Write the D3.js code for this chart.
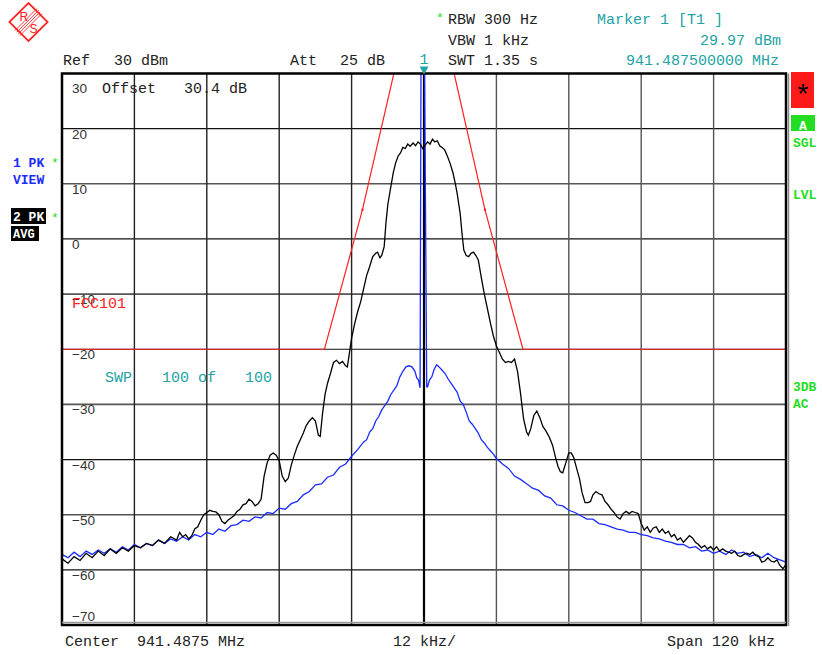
<!DOCTYPE html>
<html>
<head>
<meta charset="utf-8">
<script src="https://cdn.jsdelivr.net/npm/d3@7/dist/d3.min.js"></script>
<style>
  body { margin: 0; background: #fff; }
  svg text { font-family: "Liberation Mono", "DejaVu Sans Mono", monospace; white-space: pre; }
</style>
</head>
<body>
<script>
// ---- data (offset from centre in kHz, level in dBm) ----
// trace 1: PK VIEW (blue)
var trace1 = [
  [-60,-57.2],[-59,-57.8],[-58,-56.8],[-57,-57.6],[-56,-56.6],[-55,-57.2],[-54,-56.4],[-53,-57.0],
  [-52,-56.2],[-51,-56.8],[-50,-55.8],[-49,-56.4],[-48,-55.4],[-47,-56.0],[-46,-55.2],[-45,-55.6],
  [-44,-54.6],[-43,-55.2],[-42,-54.4],[-41,-54.8],[-40,-54.0],[-39,-54.6],[-38,-53.6],[-37,-54.0],
  [-36,-53.2],[-35,-53.6],[-34,-52.6],[-33,-53.0],[-32,-52.0],[-31,-51.8],[-30,-51.0],[-29,-51.2],
  [-28,-50.4],[-27,-50.6],[-26,-49.6],[-25,-49.8],[-24,-48.8],[-23,-49.0],[-22,-48.0],[-21,-47.6],
  [-20,-46.4],[-19,-45.8],[-18,-44.6],[-17,-44.4],[-16,-43.2],[-15,-42.8],[-14,-41.4],[-13,-40.8],
  [-12,-39.4],[-11,-38.2],[-10,-36.8],[-9.5,-36.4],[-9,-35.0],[-8.5,-34.4],[-8,-33.0],[-7.5,-32.2],
  [-7,-31.0],[-6.5,-30.2],[-6,-29.4],[-5.5,-28.2],[-5,-27.4],[-4.5,-26.6],[-4,-25.0],[-3.5,-24.0],
  [-3,-23.2],[-2.5,-23.0],[-2,-23.2],[-1.5,-24.0],[-1.2,-25.2],[-0.9,-25.6],[-0.65,-27.0],
  [-0.5,29.97],[0.1,29.97],[0.45,-26.8],
  [0.6,-26.8],[0.9,-25.6],[1.3,-25.0],[1.7,-23.6],[2.1,-22.8],[2.5,-23.2],[3.0,-23.8],[3.5,-24.4],
  [4.0,-25.4],[4.5,-26.2],[5.0,-27.0],[5.5,-27.8],[6.0,-29.4],[6.5,-30.0],[7.0,-31.4],[7.5,-33.0],
  [8.0,-33.6],[8.5,-34.4],[9.0,-35.2],[9.5,-36.4],[10,-37.0],[10.5,-37.8],[11,-38.4],[11.5,-39.0],
  [12,-39.8],[13,-40.8],[14,-41.6],[15,-43.0],[16,-43.6],[17,-44.4],[18,-45.2],[19,-45.6],
  [20,-46.6],[21,-47.0],[22,-48.2],[23,-48.4],[24,-49.2],[25,-49.6],[26,-50.2],[27,-50.8],
  [28,-50.8],[29,-51.6],[30,-51.8],[31,-52.2],[32,-52.6],[33,-52.8],[34,-53.2],[35,-53.2],
  [36,-53.6],[37,-53.8],[38,-54.2],[39,-54.4],[40,-54.8],[41,-55.0],[42,-55.4],[43,-55.4],
  [44,-56.0],[45,-55.8],[46,-56.6],[47,-56.4],[48,-57.0],[49,-56.6],[50,-57.2],[51,-56.4],
  [52,-57.0],[53,-56.8],[54,-57.6],[55,-57.2],[56,-57.8],[57,-57.0],[58,-57.8],[59,-58.2],[60,-58.6]
];

// trace 2: PK AVG (black)
var trace2 = [
  [-60,-58.0],[-59,-58.8],[-58,-57.6],[-57,-58.3],[-56,-57.0],[-55,-57.8],[-54,-56.6],[-53,-57.4],
  [-52,-56.2],[-51,-57.0],[-50,-56.0],[-49,-56.6],[-48,-55.6],[-47,-56.0],[-46,-55.2],[-45,-55.6],
  [-44,-54.6],[-43,-55.2],[-42,-54.0],[-41,-54.6],[-40.5,-53.2],[-40,-54.0],[-39.5,-53.6],[-39,-54.4],
  [-38.5,-53.8],[-38,-52.6],[-37.5,-52.2],[-37,-51.0],[-36.5,-50.0],[-36,-49.6],[-35.5,-49.2],[-35,-49.4],
  [-34.5,-49.5],[-34,-50.0],[-33.5,-51.2],[-33,-51.6],[-32.5,-51.0],[-32,-50.6],[-31.5,-50.2],[-31,-49.4],
  [-30.5,-49.0],[-30,-48.2],[-29.5,-48.0],[-29,-47.2],[-28.5,-47.6],[-28,-48.4],[-27.5,-48.0],[-27,-47.2],
  [-26.5,-43.0],[-26,-40.6],[-25.5,-39.2],[-25,-38.8],[-24.5,-39.2],[-24,-40.2],[-23.5,-43.0],[-23,-44.0],
  [-22.5,-43.4],[-22,-41.0],[-21.5,-39.2],[-21,-37.6],[-20.5,-36.4],[-20,-35.2],[-19.5,-33.8],[-19,-33.0],
  [-18.5,-32.4],[-18,-33.0],[-17.5,-35.6],[-17.2,-35.8],[-16.8,-31.5],[-16.4,-28.2],[-16,-26.2],[-15.5,-24.4],
  [-15,-22.4],[-14.5,-22.0],[-14,-22.6],[-13.5,-22.2],[-13,-23.0],[-12.7,-23.2],[-12.3,-20.2],[-12,-18.0],
  [-11.5,-15.4],[-11,-13.2],[-10.5,-11.4],[-10,-9.0],[-9.5,-6.6],[-9,-5.0],[-8.5,-3.2],[-8,-2.6],
  [-7.7,-2.4],[-7.3,-3.4],[-7,-3.0],[-6.6,-1.4],[-6.3,3.0],[-6,6.2],[-5.6,8.8],[-5.1,12.0],
  [-4.7,13.8],[-4.3,15.0],[-3.9,15.6],[-3.5,16.6],[-3.1,16.4],[-2.7,17.2],[-2.3,16.8],[-1.8,17.4],
  [-1.4,16.9],[-1.0,17.6],[-0.6,17.2],[-0.2,16.4],[0.2,17.0],[0.6,17.6],[1.0,17.2],[1.4,18.1],
  [1.8,17.6],[2.2,17.8],[2.6,16.9],[3.0,16.6],[3.4,16.2],[3.8,15.2],[4.3,13.8],[4.8,12.0],
  [5.2,10.0],[5.5,8.2],[6.0,4.6],[6.3,1.0],[6.6,-2.0],[7.0,-3.0],[7.4,-3.2],[7.8,-2.6],
  [8.2,-2.4],[8.6,-3.0],[9.0,-3.8],[9.5,-7.0],[10.0,-10.0],[10.5,-12.6],[11.0,-15.2],[11.5,-17.6],
  [12.0,-19.4],[12.5,-20.6],[13.0,-21.8],[13.5,-22.4],[14.0,-22.2],[14.5,-22.4],[15.0,-21.8],[15.5,-24.0],
  [16.0,-28.0],[16.5,-32.6],[17.0,-35.0],[17.3,-35.6],[17.7,-34.4],[18.2,-32.0],[18.7,-31.2],[19.2,-32.4],
  [19.7,-34.0],[20.2,-34.8],[20.8,-36.0],[21.3,-37.4],[21.8,-39.6],[22.2,-41.2],[22.6,-42.2],[23.0,-42.4],
  [23.5,-40.6],[24.0,-38.8],[24.4,-38.8],[24.8,-39.6],[25.3,-41.6],[25.8,-43.6],[26.2,-46.0],[26.7,-47.8],
  [27.2,-47.8],[27.6,-47.6],[28.0,-46.4],[28.5,-45.8],[29.0,-46.2],[29.5,-46.4],[30.0,-47.6],[30.5,-48.2],
  [31.0,-49.0],[31.5,-49.6],[32.0,-50.4],[32.5,-50.8],[33.0,-49.8],[33.5,-49.4],[34.0,-49.8],[34.5,-49.4],
  [35.0,-49.6],[35.5,-49.8],[36.0,-51.6],[36.5,-52.8],[37.0,-52.2],[37.5,-53.2],[38.0,-52.4],[38.5,-52.2],
  [39.0,-53.2],[39.5,-52.6],[40.0,-53.4],[40.5,-53.0],[41.0,-54.0],[41.5,-53.6],[42.0,-54.6],[42.5,-54.2],
  [43.0,-55.0],[43.5,-54.4],[44.0,-53.8],[44.5,-54.2],[45.0,-55.0],[45.5,-55.4],[46.0,-56.0],[46.5,-55.6],
  [47.0,-56.2],[47.5,-55.8],[48.0,-56.4],[48.5,-55.8],[49.0,-56.6],[49.5,-56.2],[50.0,-56.6],[51.0,-57.0],
  [51.5,-56.6],[52.0,-57.4],[52.5,-57.6],[53.0,-57.2],[53.5,-57.0],[54.0,-57.2],[54.5,-56.8],[55.0,-57.4],
  [55.5,-57.6],[56.0,-58.6],[56.5,-58.4],[57.0,-57.8],[57.5,-58.4],[58.0,-58.6],[58.5,-58.2],[59.0,-59.2],
  [59.5,-59.8],[60.0,-59.0]
];

// FCC101 limit line
var limitLine = [[-60,-20],[-16.5,-20],[-10.2,5.3],[-5,30],[5,30],[10.1,5.3],[16.4,-20],[60,-20]];

var yTicks = [20, 10, 0, -10, -20, -30, -40, -50, -60, -70];
var xGrid = [-48, -36, -24, -12, 0, 12, 24, 36, 48];
var markerFreq = 0, markerLevel = 29.97;

// ---- layout ----
var W = 822, H = 655;
var x = d3.scaleLinear().domain([-60, 60]).range([62, 786]);
var y = d3.scaleLinear().domain([-70, 30]).range([625, 73.5]);

var teal = "#22a3a3", green = "#22dd22", blue = "#1a2cff", red = "#ff2020";

var svg = d3.select("body").append("svg")
    .attr("width", W).attr("height", H);
svg.append("rect").attr("width", W).attr("height", H).attr("fill", "#fff");

// grid
svg.selectAll(".hgrid").data(yTicks).enter().append("line")
    .attr("x1", x(-60)).attr("x2", x(60))
    .attr("y1", d => y(d)).attr("y2", d => y(d))
    .attr("stroke", (d, i) => i % 2 ? "#555" : "#111")
    .attr("stroke-width", (d, i) => i % 2 ? 1.6 : 1.2);
svg.selectAll(".vgrid").data(xGrid).enter().append("line")
    .attr("x1", d => x(d)).attr("x2", d => x(d))
    .attr("y1", y(30)).attr("y2", y(-70))
    .attr("stroke", d => d === 0 ? "#000" : (d < 0 ? "#222" : "#555"))
    .attr("stroke-width", d => d === 0 ? 2.2 : 1.4);

// y labels (the bottom one sits above the frame)
svg.selectAll(".ylab").data(yTicks).enter().append("text")
    .attr("x", 72).attr("y", d => d === -70 ? y(d) - 4 : y(d) + 10)
    .attr("font-size", 13.5).attr("fill", "#333")
    .style("font-family", "'Liberation Sans', Arial, sans-serif")
    .text(d => d < 0 ? "\u2212" + Math.abs(d) : d);
svg.append("text").attr("x", 72).attr("y", 93).attr("font-size", 13.5).attr("fill", "#333")
    .style("font-family", "'Liberation Sans', Arial, sans-serif").text("30");

// clip for traces
svg.append("clipPath").attr("id", "plotclip").append("rect")
    .attr("x", x(-60)).attr("y", y(30) - 1).attr("width", x(60) - x(-60)).attr("height", y(-70) - y(30) + 1);

var line = d3.line().x(d => x(d[0])).y(d => y(d[1]));
var g = svg.append("g").attr("clip-path", "url(#plotclip)");

g.append("path").datum(limitLine).attr("d", line)
    .attr("fill", "none").attr("stroke", red).attr("stroke-width", 1.2);
g.append("path").datum(trace1).attr("d", line)
    .attr("fill", "none").attr("stroke", blue).attr("stroke-width", 1.3);
g.append("path").datum(trace2).attr("d", line)
    .attr("fill", "none").attr("stroke", "#000").attr("stroke-width", 1.3);

// limit vertex dots
g.selectAll(".ldot").data([limitLine[2], limitLine[5]]).enter().append("circle")
    .attr("cx", d => x(d[0])).attr("cy", d => y(d[1])).attr("r", 1.2).attr("fill", red);

// frame
svg.append("rect").attr("x", x(-60)).attr("y", y(30))
    .attr("width", x(60) - x(-60)).attr("height", y(-70) - y(30))
    .attr("fill", "none").attr("stroke", "#000").attr("stroke-width", 2.5);
svg.append("line").attr("x1", x(60) + 2.5).attr("x2", x(60) + 2.5)
    .attr("y1", y(30)).attr("y2", y(-70) + 1).attr("stroke", "#888").attr("stroke-width", 1.5);
svg.append("line").attr("x1", x(-60)).attr("x2", x(60))
    .attr("y1", y(-70) - 2.5).attr("y2", y(-70) - 2.5).attr("stroke", "#999").attr("stroke-width", 1.5);

// marker triangle
var mx = x(markerFreq);
svg.append("path")
    .attr("d", "M" + (mx - 4.5) + "," + (y(30) - 7) + " L" + (mx + 4.5) + "," + (y(30) - 7) + " L" + mx + "," + (y(30) + 1) + "Z")
    .attr("fill", teal);
svg.append("text").attr("x", mx).attr("y", 64).attr("text-anchor", "middle")
    .attr("font-size", 15).attr("fill", teal).text("1");

// header text
function txt(xp, yp, s, col, size, anchor) {
  return svg.append("text").attr("x", xp).attr("y", yp)
      .attr("font-size", size || 15).attr("fill", col || "#222")
      .attr("text-anchor", anchor || "start").text(s);
}
txt(63, 65, "Ref");
txt(114, 65, "30 dBm");
txt(290, 65, "Att");
txt(340, 65, "25 dB");
txt(436, 22, "*", green, 13);
txt(448, 24, "RBW 300 Hz");
txt(448, 45, "VBW 1 kHz");
txt(448, 65, "SWT 1.35 s");
txt(597, 24, "Marker 1 [T1 ]", teal);
txt(700, 45, markerLevel.toFixed(2) + " dBm", teal);
txt(626, 65, "941.487500000 MHz", teal);

// inside plot
txt(102, 93, "Offset", "#222");
txt(184, 93, "30.4 dB", "#222");
txt(72, 308, "FCC101", red);
txt(105, 382, "SWP", teal);
txt(162, 382, "100 of", teal);
txt(245, 382, "100", teal);

// bottom
txt(65, 646, "Center");
txt(137, 646, "941.4875 MHz");
txt(393, 646, "12 kHz/");
txt(667, 646, "Span");
txt(712, 646, "120 kHz");

// left side trace labels
svg.append("text").attr("x", 13).attr("y", 167).attr("font-size", 13).attr("font-weight", "bold")
    .attr("fill", blue).text("1 PK");
svg.append("text").attr("x", 13).attr("y", 184).attr("font-size", 13).attr("font-weight", "bold")
    .attr("fill", blue).text("VIEW");
txt(51, 167, "*", green, 13);
svg.append("rect").attr("x", 11).attr("y", 208).attr("width", 35).attr("height", 16).attr("fill", "#000");
svg.append("rect").attr("x", 11).attr("y", 226).attr("width", 28).attr("height", 15).attr("fill", "#000");
svg.append("text").attr("x", 13).attr("y", 221).attr("font-size", 13).attr("font-weight", "bold")
    .attr("fill", "#fff").text("2 PK");
svg.append("text").attr("x", 13).attr("y", 238).attr("font-size", 12).attr("font-weight", "bold")
    .attr("fill", "#fff").text("AVG");
txt(51, 222, "*", green, 13);

// right side status
svg.append("rect").attr("x", 791).attr("y", 72).attr("width", 23).attr("height", 36).attr("fill", "#ff1a1a");
svg.append("text").attr("x", 803).attr("y", 104).attr("text-anchor", "middle").attr("font-size", 28)
    .attr("fill", "#000").text("*");
svg.append("rect").attr("x", 791).attr("y", 115).attr("width", 24).attr("height", 16).attr("fill", green);
svg.append("text").attr("x", 803).attr("y", 130).attr("text-anchor", "middle").attr("font-size", 13)
    .attr("font-weight", "bold").attr("fill", "#fff").text("A");
[["SGL", 147], ["LVL", 199], ["3DB", 391], ["AC", 408]].forEach(function(d) {
  svg.append("text").attr("x", 793).attr("y", d[1]).attr("font-size", 13).attr("font-weight", "bold")
      .attr("fill", green).text(d[0]);
});

// R&S logo
var logo = svg.append("g").attr("transform", "translate(28.5,22)");
logo.append("rect").attr("x", -13.5).attr("y", -13.5).attr("width", 27).attr("height", 27)
    .attr("transform", "rotate(45)").attr("fill", "none").attr("stroke", red).attr("stroke-width", 1.8);
[-2.5, -0.8, 0.8, 2.5].forEach(function(o) {
  logo.append("line").attr("x1", -11 + o).attr("y1", 11 + o).attr("x2", 11 + o).attr("y2", -11 + o)
      .attr("stroke", red).attr("stroke-width", 0.9);
});
logo.append("text").attr("x", -9).attr("y", -1).attr("font-size", 12).attr("fill", red)
    .style("font-family", "'Liberation Sans', Arial, sans-serif").text("R");
logo.append("text").attr("x", 1).attr("y", 11).attr("font-size", 12).attr("fill", red)
    .style("font-family", "'Liberation Sans', Arial, sans-serif").text("S");
</script>
</body>
</html>
